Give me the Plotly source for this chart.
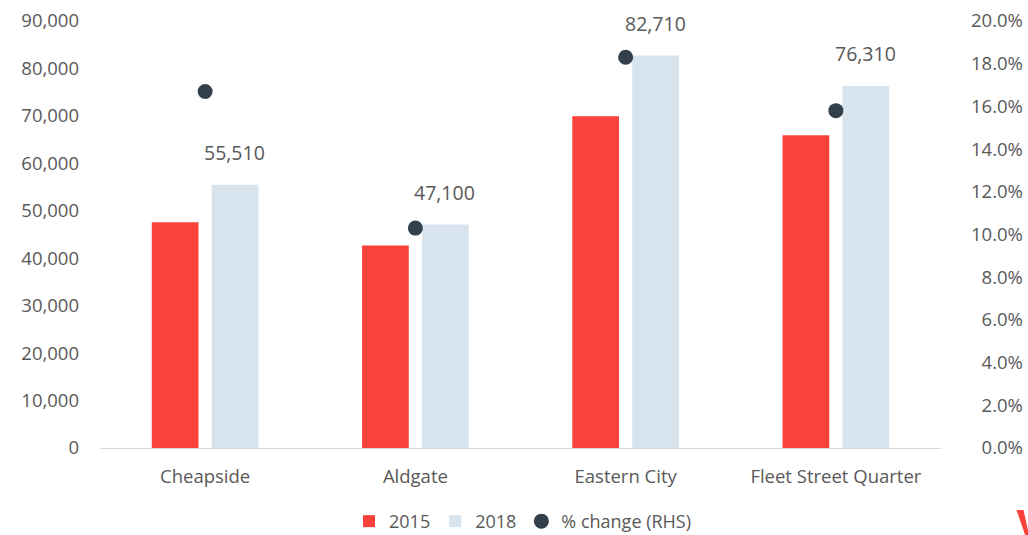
import plotly.graph_objects as go

# Data
areas = ["Cheapside", "Aldgate", "Eastern City", "Fleet Street Quarter"]
values_2015 = [47560, 42700, 69900, 65900]
values_2018 = [55510, 47100, 82710, 76310]
pct_change = [0.167, 0.103, 0.183, 0.158]

left_ticks = list(range(0, 90001, 10000))
right_ticks = [i / 100 for i in range(0, 21, 2)]

RED = "#FA423A"
LIGHT = "#D7E4EE"
DARK = "#333F4B"
TEXT = "#595959"
FONT = "Open Sans"
TICK_SIZE = 18.5


def pct_label(v):
    s = f"{v * 100:.1f}%"
    # pad single-digit labels with a figure space so they line up on the right
    return ("\u2007" + s) if len(s) < 5 else s


fig = go.Figure()

fig.add_trace(go.Bar(
    name="2015", x=areas, y=values_2015,
    marker=dict(color=RED, line=dict(width=0)),
))
fig.add_trace(go.Bar(
    name="2018", x=areas, y=values_2018,
    marker=dict(color=LIGHT, line=dict(width=0)),
))
fig.add_trace(go.Scatter(
    name="% change (RHS)", x=areas, y=pct_change, yaxis="y2",
    mode="markers",
    marker=dict(color=DARK, size=15, line=dict(width=0)),
))

# Value labels above the 2018 bars
annotations = []
for a, v in zip(areas, values_2018):
    annotations.append(dict(
        x=a, y=v, xref="x", yref="y", text=f"{v:,}",
        showarrow=False, xshift=29.5, yshift=32, yanchor="middle",
        font=dict(family=FONT, size=19.5, color=TEXT),
    ))

fig.update_layout(
    width=1028, height=535, autosize=False,
    margin=dict(l=100, r=87, t=21, b=87, pad=0, autoexpand=False),
    paper_bgcolor="white", plot_bgcolor="white",
    font=dict(family=FONT, size=TICK_SIZE, color=TEXT),
    barmode="group", bargap=0.43, bargroupgap=0.22,
    showlegend=True,
    legend=dict(
        orientation="h", x=0.503, xanchor="center", y=-0.172, yanchor="middle",
        font=dict(family=FONT, size=18, color=TEXT),
        traceorder="normal", itemwidth=30,
    ),
    xaxis=dict(
        showline=True, linecolor="#D9D9D9", linewidth=1,
        showgrid=False, zeroline=False, ticks="",
        tickfont=dict(family=FONT, size=TICK_SIZE, color=TEXT),
        ticklabelstandoff=12,
    ),
    yaxis=dict(
        range=[0, 90000], tickvals=left_ticks, tickformat=",",
        showgrid=False, zeroline=False, showline=False, ticks="",
        tickfont=dict(family=FONT, size=TICK_SIZE, color=TEXT),
        ticklabelstandoff=20,
    ),
    yaxis2=dict(
        overlaying="y", side="right", range=[0, 0.20],
        tickvals=right_ticks, ticktext=[pct_label(v) for v in right_ticks],
        showgrid=False, zeroline=False, showline=False, ticks="",
        tickfont=dict(family=FONT, size=TICK_SIZE, color=TEXT),
        ticklabelstandoff=29,
    ),
    annotations=annotations,
    shapes=[dict(
        type="path", xref="paper", yref="paper",
        path="M 1.0898 -0.1452 L 1.0981 -0.1452 L 1.1047 -0.2037 L 1.1 -0.2037 Z",
        fillcolor=RED, line=dict(width=0), layer="above",
    )],
)

fig.write_html("out.html")
